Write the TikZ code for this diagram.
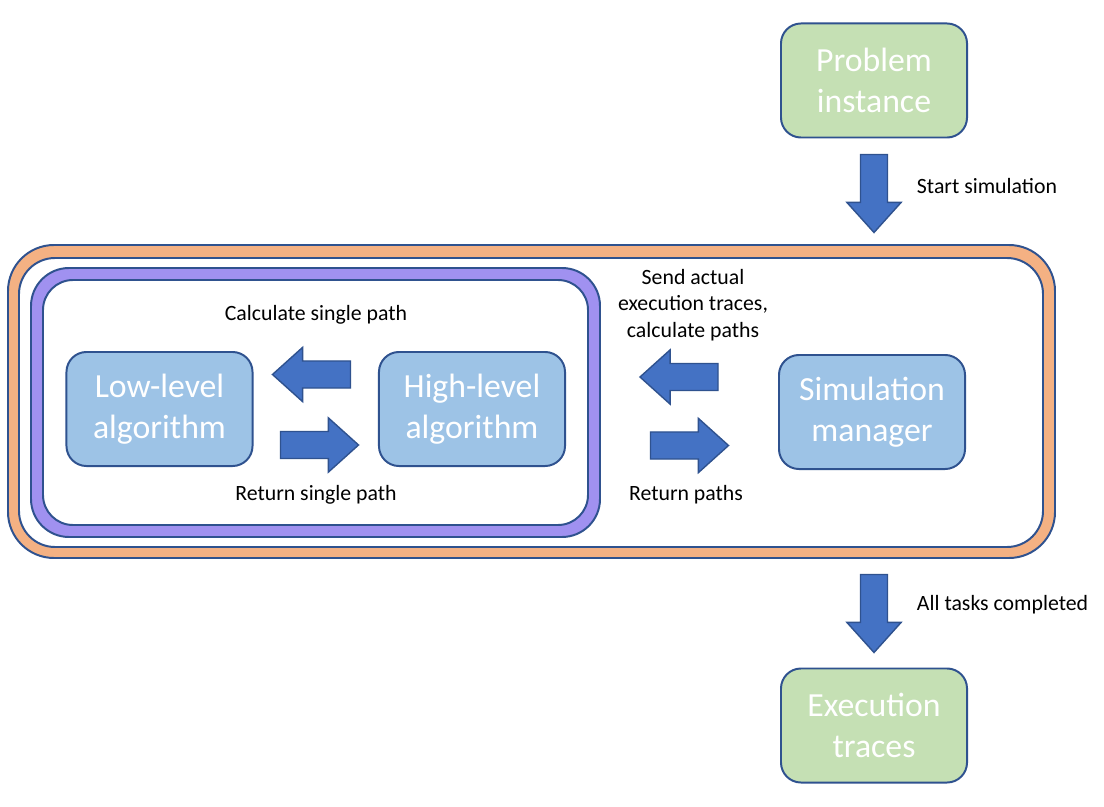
\documentclass[tikz,border=0pt]{standalone}
\usepackage{fontspec}
\setmainfont{Carlito}
\usetikzlibrary{shapes.arrows}

\definecolor{edgeblue}{RGB}{47,82,143}
\definecolor{boxgreen}{RGB}{197,224,180}
\definecolor{boxblue}{RGB}{157,195,230}
\definecolor{arrowblue}{RGB}{68,114,196}
\definecolor{bandorange}{RGB}{244,177,131}
\definecolor{bandpurple}{RGB}{160,145,240}

\tikzset{
  block/.style={draw=edgeblue, line width=1.4pt, rounded corners=0.5cm,
    minimum width=4.65cm, minimum height=2.85cm, align=center, text=white,
    font=\fontsize{24}{29}\selectfont},
  inputbox/.style={block, fill=boxgreen},
  algobox/.style={block, fill=boxblue},
  bigarrow/.style={shape=single arrow, draw=edgeblue, line width=1pt, fill=arrowblue,
    inner xsep=0pt, inner ysep=0.32cm, minimum height=1.95cm,
    single arrow head extend=0.34cm, single arrow tip angle=84},
  note/.style={font=\fontsize{15.5}{18.8}\selectfont, align=center},
  band/.style={draw=edgeblue, line width=1.4pt},
}

\begin{document}
\begin{tikzpicture}[x=0.025cm, y=-0.025cm]
    \useasboundingbox (0,0) rectangle (1104,807);

    % Cornice arancione
    \draw[band, fill=bandorange, rounded corners=1.15cm] (8,245) rectangle (1055,558);
    \draw[band, fill=white, rounded corners=0.9cm] (19,258) rectangle (1043,547);

    % Cornice viola
    \draw[band, fill=bandpurple, rounded corners=0.95cm] (31,268) rectangle (600,537);
    \draw[band, fill=white, rounded corners=0.75cm] (43,280) rectangle (588,525);

    % Blocchi
    \node[inputbox] (problem) at (874,80.5) {Problem\\instance};
    \node[algobox] (lowlevel) at (159.5,409) {Low-level\\algorithm};
    \node[algobox] (highlevel) at (472,409) {High-level\\algorithm};
    \node[algobox] (simmanager) at (872,412) {Simulation\\manager};
    \node[inputbox] (traces) at (874,725.5) {Execution\\traces};

    % Frecce (il centro del nodo sta spostato verso la punta)
    \node[bigarrow, rotate=-90] (startarrow) at (874,186) {};
    \node[bigarrow, rotate=180] (calcarrow) at (319,374.5) {};
    \node[bigarrow] (retarrow) at (312,445) {};
    \node[bigarrow, rotate=180] (sendarrow) at (686.5,377) {};
    \node[bigarrow] (pathsarrow) at (682,445.5) {};
    \node[bigarrow, rotate=-90] (donearrow) at (874,606) {};

    % Etichette
    \node[note, anchor=west] (startlabel) at (912,186) {Start simulation};
    \node[note] (calclabel) at (316,315) {Calculate single path};
    \node[note] (retlabel) at (316,495) {Return single path};
    \node[note] (sendlabel) at (693,305) {Send actual\\execution traces,\\calculate paths};
    \node[note] (pathslabel) at (686,495) {Return paths};
    \node[note, anchor=west] (donelabel) at (912,605) {All tasks completed};
\end{tikzpicture}
\end{document}
